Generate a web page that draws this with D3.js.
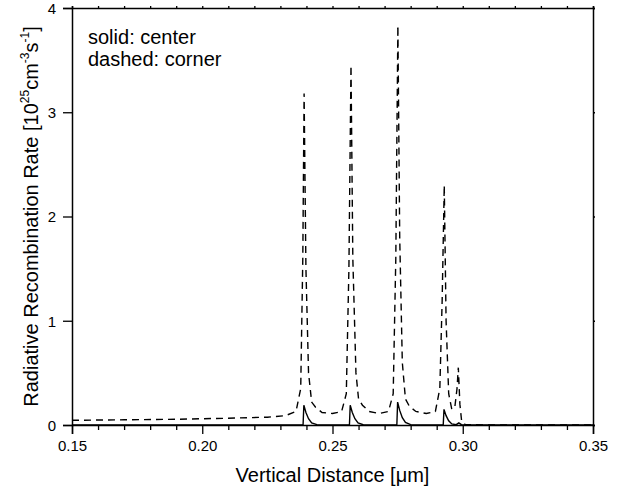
<!DOCTYPE html>
<html>
<head>
<meta charset="utf-8">
<script src="https://cdn.jsdelivr.net/npm/d3@7"></script>
<style>
  body { margin: 0; background: #fff; }
  text { font-family: Arial, "Liberation Sans", sans-serif; fill: #000; }
</style>
</head>
<body>
<div id="chart"></div>
<script>
(function() {

    // chart size
    var width = 618;
    var height = 489;
    var margin = {top: 8, right: 25, bottom: 64, left: 72};

    // corner (dashed) profile, x in um
    var cornerX = [0.150, 0.170, 0.190, 0.210, 0.225, 0.232, 0.2360, 0.2378, 0.2386, 0.2391, 0.2398, 0.2408, 0.2420, 0.2435,
        0.2460, 0.2500, 0.2535, 0.2553, 0.2563, 0.2571, 0.2578, 0.2590, 0.2600, 0.2615, 0.2640, 0.2680,
        0.2715, 0.2733, 0.2743, 0.2751, 0.2758, 0.2768, 0.2780, 0.2795, 0.2820, 0.2860, 0.2895, 0.2912,
        0.2921, 0.2929, 0.2936, 0.2946, 0.2958, 0.2970, 0.2978, 0.2983, 0.2989, 0.2996, 0.3010, 0.3100, 0.3500];
    var cornerY = [0.045, 0.050, 0.055, 0.065, 0.075, 0.090, 0.13, 0.35, 1.60, 3.18, 1.50, 0.50, 0.22, 0.17,
        0.12, 0.11, 0.13, 0.30, 1.50, 3.45, 1.60, 0.50, 0.25, 0.19, 0.13, 0.11,
        0.13, 0.30, 1.60, 3.83, 1.80, 0.60, 0.25, 0.18, 0.13, 0.11, 0.13, 0.35,
        1.20, 2.30, 1.00, 0.30, 0.15, 0.18, 0.35, 0.55, 0.20, 0.03, 0.005, 0.0, 0.0];

    // center (solid) profile
    var centerX = [0.150, 0.2387, 0.2390, 0.2398, 0.2408, 0.2420, 0.2440, 0.2450,
        0.2565, 0.2568, 0.2576, 0.2586, 0.2598, 0.2618, 0.2630,
        0.2747, 0.2750, 0.2758, 0.2768, 0.2780, 0.2800, 0.2810,
        0.2925, 0.2928, 0.2936, 0.2946, 0.2958, 0.2975, 0.2985, 0.2995, 0.3020, 0.3500];
    var centerY = [0, 0, 0.19, 0.12, 0.06, 0.02, 0.003, 0,
        0, 0.19, 0.12, 0.06, 0.02, 0.003, 0,
        0, 0.22, 0.14, 0.07, 0.025, 0.004, 0,
        0, 0.15, 0.09, 0.04, 0.01, 0.003, 0.02, 0.003, 0, 0];

    var xMajor = [0.15, 0.20, 0.25, 0.30, 0.35];
    var yMajor = [0, 1, 2, 3, 4];
    var legendLines = ["solid: center", "dashed: corner"];

    var svg = d3.select("#chart")
        .append("svg")
        .attr("width", width)
        .attr("height", height);

    var x = d3.scaleLinear()
        .domain([0.15, 0.35])
        .range([margin.left, width - margin.right]);

    var y = d3.scaleLinear()
        .domain([0, 4])
        .range([height - margin.bottom, margin.top]);

    var xMinor = d3.range(15, 36).map(function(d) { return d / 100; })
        .filter(function(d) { return xMajor.indexOf(d) < 0; });

    // bottom axis: major + minor ticks
    var bottom = svg.append("g")
        .attr("transform", "translate(0," + y(0) + ")");
    bottom.call(d3.axisBottom(x).tickValues(xMinor).tickSize(5).tickFormat(""));
    bottom.call(g => g.select(".domain").remove());
    var bottomMajor = svg.append("g")
        .attr("transform", "translate(0," + y(0) + ")")
        .call(d3.axisBottom(x).tickValues(xMajor).tickSize(9).tickPadding(6).tickFormat(d3.format(".2f")));
    bottomMajor.selectAll("text").style("font-size", "15px");

    // top axis (tiny ticks)
    svg.append("g")
        .attr("transform", "translate(0," + y(4) + ")")
        .call(d3.axisTop(x).tickValues(xMinor.concat(xMajor)).tickSize(2).tickFormat(""));

    // left axis
    var left = svg.append("g")
        .attr("transform", "translate(" + x(0.15) + ",0)")
        .call(d3.axisLeft(y).tickValues(yMajor).tickSize(9).tickPadding(7).tickFormat(d3.format("d")));
    left.selectAll("text").style("font-size", "15px").attr("dy", "0.36em");

    // right axis
    svg.append("g")
        .attr("transform", "translate(" + x(0.35) + ",0)")
        .call(d3.axisRight(y).tickValues(yMajor).tickSize(2).tickFormat(""));

    svg.selectAll(".domain").attr("stroke-width", 1.5);
    svg.selectAll(".tick line").attr("stroke-width", 1.3);

    // lines
    var line = d3.line()
        .x(function(d) { return x(d[0]); })
        .y(function(d) { return y(d[1]); });

    svg.append("path")
        .datum(d3.zip(cornerX, cornerY))
        .attr("fill", "none")
        .attr("stroke", "#000")
        .attr("stroke-width", 1.4)
        .attr("stroke-dasharray", "7,5")
        .attr("d", line);

    svg.append("path")
        .datum(d3.zip(centerX, centerY))
        .attr("fill", "none")
        .attr("stroke", "#000")
        .attr("stroke-width", 1.4)
        .attr("d", line);

    // legend text
    svg.selectAll(".legend")
        .data(legendLines)
        .enter().append("text")
        .attr("x", 88)
        .attr("y", function(d, i) { return 44 + i * 22; })
        .style("font-size", "20px")
        .text(function(d) { return d; });

    // x title
    svg.append("text")
        .attr("x", (x(0.15) + x(0.35)) / 2)
        .attr("y", 482)
        .attr("text-anchor", "middle")
        .style("font-size", "20px")
        .text("Vertical Distance [μm]");

    // y title with superscripts
    var yt = svg.append("text")
        .attr("transform", "translate(38," + ((y(0) + y(4)) / 2) + ") rotate(-90)")
        .attr("text-anchor", "middle")
        .style("font-size", "20px");
    yt.append("tspan").text("Radiative Recombination Rate [10");
    yt.append("tspan").attr("dy", -9).style("font-size", "12px").text("25");
    yt.append("tspan").attr("dy", 9).text("cm");
    yt.append("tspan").attr("dy", -9).style("font-size", "12px").text("-3");
    yt.append("tspan").attr("dy", 9).text("s");
    yt.append("tspan").attr("dy", -9).style("font-size", "12px").text("-1");
    yt.append("tspan").attr("dy", 9).text("]");

})();
</script>
</body>
</html>
